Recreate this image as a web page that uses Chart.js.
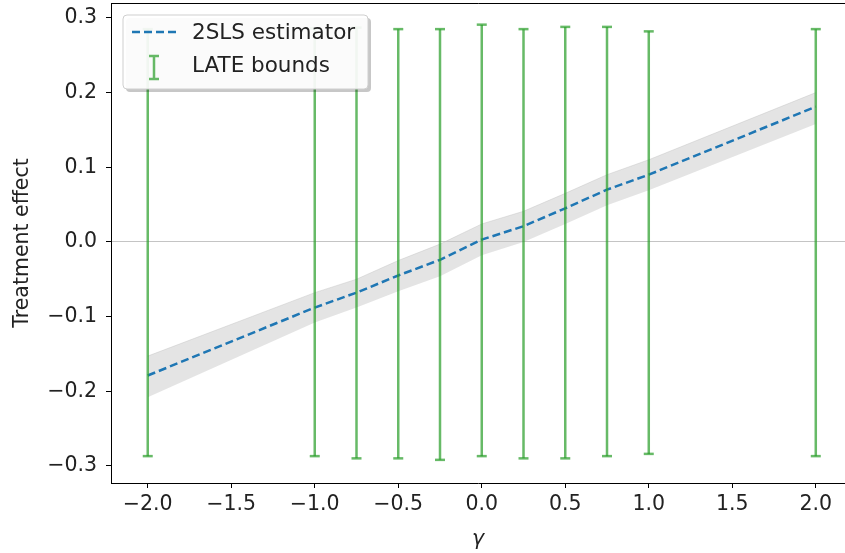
<!DOCTYPE html>
<html>
<head>
<meta charset="utf-8">
<script src="https://cdn.jsdelivr.net/npm/chart.js@4/dist/chart.umd.min.js"></script>
<style>
  html, body { margin: 0; padding: 0; background: #fff; }
  #wrap { width: 845px; height: 553px; }
</style>
</head>
<body>
<div id="wrap"><canvas id="grafico"></canvas></div>
<script>
// valores
const gammas = [-2, -1, -0.75, -0.5, -0.25, 0, 0.25, 0.5, 0.75, 1, 2];
const estimador = [-0.179, -0.088, -0.068, -0.045, -0.024, 0.003, 0.021, 0.045, 0.070, 0.090, 0.181];
const bandaInf = [-0.208, -0.108, -0.088, -0.066, -0.046, -0.018, 0.000, 0.024, 0.049, 0.069, 0.158];
const bandaSup = [-0.153, -0.068, -0.050, -0.025, -0.003, 0.024, 0.041, 0.065, 0.090, 0.110, 0.200];
const lateInf = [-0.287, -0.287, -0.290, -0.290, -0.292, -0.287, -0.290, -0.290, -0.287, -0.284, -0.287];
const lateSup = [0.285, 0.286, 0.287, 0.285, 0.285, 0.291, 0.285, 0.288, 0.288, 0.282, 0.285];

const FUENTE = "'DejaVu Sans', sans-serif";
const TAM = 20.5;
const VERDE = 'rgba(44,160,44,0.72)';
const AZUL = '#1f77b4';

function menos(v) {
    return v.toFixed(1).replace('-', '\u2212');
}

// segmentos verticales: (x, inf), (x, sup), hueco
function puntosLate() {
    const pts = [];
    gammas.forEach((g, i) => {
        pts.push({ x: g, y: lateInf[i] });
        pts.push({ x: g, y: lateSup[i] });
        pts.push({ x: g, y: null });
    });
    return pts;
}

const marco = {
    id: 'marco',
    afterDatasetsDraw(chart) {
        const { ctx, chartArea: a } = chart;
        ctx.save();
        ctx.strokeStyle = '#000';
        ctx.lineWidth = 1;
        ctx.beginPath();
        ctx.moveTo(a.left + 0.5, a.bottom);
        ctx.lineTo(a.left + 0.5, a.top + 0.5);
        ctx.lineTo(a.right, a.top + 0.5);
        ctx.stroke();

        // leyenda dentro del area
        const x0 = a.left + 12, y0 = a.top + 12, w = 245, h = 74;
        ctx.fillStyle = 'rgba(0,0,0,0.22)';
        roundRect(ctx, x0 + 3, y0 + 3, w, h, 4);
        ctx.fill();
        ctx.fillStyle = 'rgba(255,255,255,0.92)';
        ctx.strokeStyle = '#cfcfcf';
        roundRect(ctx, x0, y0, w, h, 4);
        ctx.fill();
        ctx.stroke();

        ctx.strokeStyle = AZUL;
        ctx.lineWidth = 2.5;
        ctx.setLineDash([8, 4]);
        ctx.beginPath();
        ctx.moveTo(x0 + 9, y0 + 17);
        ctx.lineTo(x0 + 53, y0 + 17);
        ctx.stroke();
        ctx.setLineDash([]);

        ctx.strokeStyle = VERDE;
        ctx.lineWidth = 2.5;
        ctx.beginPath();
        ctx.moveTo(x0 + 31, y0 + 41);
        ctx.lineTo(x0 + 31, y0 + 64);
        ctx.moveTo(x0 + 26, y0 + 41);
        ctx.lineTo(x0 + 36, y0 + 41);
        ctx.moveTo(x0 + 26, y0 + 64);
        ctx.lineTo(x0 + 36, y0 + 64);
        ctx.stroke();

        ctx.fillStyle = '#222';
        ctx.font = '21.5px ' + FUENTE;
        ctx.textBaseline = 'middle';
        ctx.fillText('2SLS estimator', x0 + 69, y0 + 18);
        ctx.fillText('LATE bounds', x0 + 69, y0 + 51);
        ctx.restore();
    }
};

function roundRect(ctx, x, y, w, h, r) {
    ctx.beginPath();
    ctx.moveTo(x + r, y);
    ctx.lineTo(x + w - r, y);
    ctx.quadraticCurveTo(x + w, y, x + w, y + r);
    ctx.lineTo(x + w, y + h - r);
    ctx.quadraticCurveTo(x + w, y + h, x + w - r, y + h);
    ctx.lineTo(x + r, y + h);
    ctx.quadraticCurveTo(x, y + h, x, y + h - r);
    ctx.lineTo(x, y + r);
    ctx.quadraticCurveTo(x, y, x + r, y);
    ctx.closePath();
}

const ctx = document.getElementById('grafico').getContext('2d');
new Chart(ctx, {
    type: 'scatter',
    data: {
        datasets: [
            {
                label: 'LATE bounds',
                data: puntosLate(),
                showLine: true,
                spanGaps: false,
                borderColor: VERDE,
                borderWidth: 2.5,
                pointStyle: 'line',
                pointRadius: 5,
                pointBorderWidth: 2.5,
                pointBorderColor: VERDE,
                pointBackgroundColor: VERDE
            },
            {
                label: '2SLS estimator',
                data: gammas.map((g, i) => ({ x: g, y: estimador[i] })),
                showLine: true,
                borderColor: AZUL,
                borderWidth: 2.5,
                borderDash: [8, 4],
                pointRadius: 0
            },
            {
                label: 'inf',
                data: gammas.map((g, i) => ({ x: g, y: bandaInf[i] })),
                showLine: true,
                borderWidth: 0,
                borderColor: 'rgba(0,0,0,0)',
                pointRadius: 0,
                fill: false
            },
            {
                label: 'sup',
                data: gammas.map((g, i) => ({ x: g, y: bandaSup[i] })),
                showLine: true,
                borderWidth: 0.8,
                borderColor: 'rgba(190,190,190,0.5)',
                backgroundColor: 'rgba(190,190,190,0.42)',
                pointRadius: 0,
                fill: '-1'
            }
        ]
    },
    options: {
        responsive: true,
        maintainAspectRatio: false,
        animation: false,
        layout: { autoPadding: false, padding: { left: 0, right: 0, top: 3, bottom: 0 } },
        plugins: {
            legend: { display: false },
            tooltip: { enabled: false }
        },
        scales: {
            x: {
                type: 'linear',
                min: -2.22,
                max: 2.175,
                afterFit: (s) => { s.height = 70; s.paddingLeft = 0; s.paddingRight = 0; },
                border: { display: true, color: '#000', width: 1 },
                grid: { display: true, drawOnChartArea: false, tickLength: 5, tickColor: '#000' },
                ticks: {
                    stepSize: 0.5,
                    includeBounds: false,
                    color: '#222',
                    font: { family: FUENTE, size: TAM },
                    padding: 4,
                    maxRotation: 0,
                    callback: (v) => menos(v)
                },
                title: {
                    display: true,
                    text: 'γ',
                    color: '#222',
                    font: { family: FUENTE, size: TAM, style: 'italic' },
                    padding: { top: 0, bottom: 1 }
                }
            },
            y: {
                min: -0.323,
                max: 0.32,
                afterFit: (s) => { s.width = 111; s.paddingTop = 0; s.paddingBottom = 0; },
                border: { display: true, color: '#000', width: 1 },
                grid: {
                    tickLength: 5,
                    tickColor: '#000',
                    color: (c) => (c.tick && Math.abs(c.tick.value) < 1e-9 ? '#c4c4c4' : 'rgba(0,0,0,0)')
                },
                ticks: {
                    stepSize: 0.1,
                    includeBounds: false,
                    color: '#222',
                    font: { family: FUENTE, size: TAM },
                    padding: 9,
                    callback: (v) => menos(v)
                },
                title: {
                    display: true,
                    text: 'Treatment effect',
                    color: '#222',
                    font: { family: FUENTE, size: TAM },
                    padding: { top: 10, bottom: 2 }
                }
            }
        }
    },
    plugins: [marco]
});
</script>
</body>
</html>
